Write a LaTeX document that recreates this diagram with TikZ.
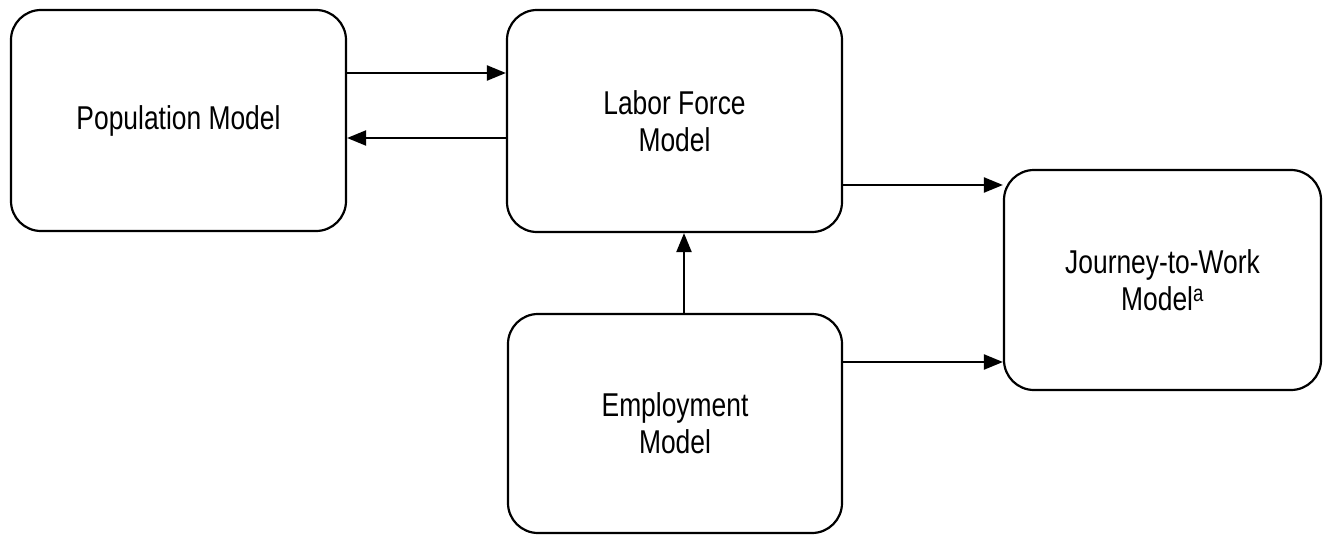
\documentclass[tikz,border=0pt]{standalone}
\usepackage{fontspec}
\newfontfamily\narrowsf[FakeStretch=0.8]{Liberation Sans}
\usetikzlibrary{arrows.meta}
\tikzset{
	model/.style={draw,line width=2.2pt,rounded corners=30pt,align=center,
		font=\narrowsf\fontsize{33}{37}\selectfont,inner sep=0pt},
	flow/.style={line width=2.2pt,-{Triangle[length=19pt,width=15pt]}}
}
\begin{document}
\begin{tikzpicture}[x=1pt,y=-1pt]
			\useasboundingbox (0,0) rectangle (1323,535);
			\node[model,minimum width=335pt,minimum height=221pt] (pop) at (178.5,120.5) {Population Model};
			\node[model,minimum width=335pt,minimum height=222pt] (labor) at (674.5,121) {Labor Force\\Model};
			\node[model,minimum width=334pt,minimum height=219pt] (employ) at (675,423.5) {Employment\\Model};
			\node[model,minimum width=317pt,minimum height=220pt] (journey) at (1162.5,280) {Journey-to-Work\\Model\textsuperscript{a}};
			%\draw[flow] (pop) -- (labor);
			\draw[flow] ([yshift=47.5pt]pop.east) -- ([yshift=47.5pt]pop.east -| labor.west);
			\draw[flow] ([yshift=-17pt]labor.west) -- ([yshift=-17pt]labor.west -| pop.east);
			\draw[flow] ([yshift=-64pt]labor.east) -- ([yshift=-64pt]labor.east -| journey.west);
			\draw[flow] ([yshift=61.5pt]employ.east) -- ([yshift=61.5pt]employ.east -| journey.west);
			\draw[flow] ([xshift=9pt]employ.north) -- ([xshift=9pt]employ.north |- labor.south);
		\end{tikzpicture}
\end{document}
